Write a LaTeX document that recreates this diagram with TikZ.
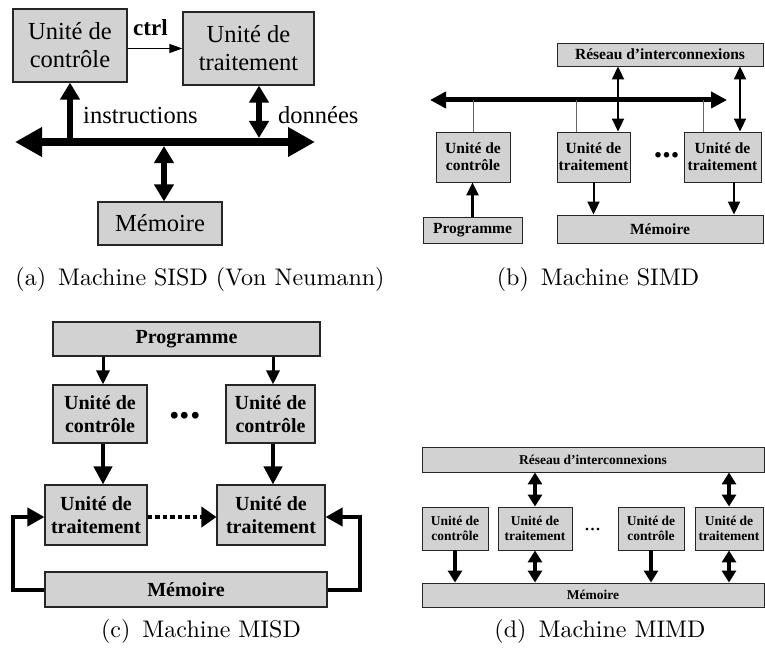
\documentclass[tikz,border=0pt]{standalone}
\usepackage{fontspec}
\newfontfamily\tnr{Liberation Serif}
\newfontfamily\capfont{lmroman10-regular.otf}
\usetikzlibrary{arrows.meta}
\begin{document}
\begin{tikzpicture}[x=1pt,y=-1pt,
  boxbase/.style={draw=black!85, fill=gray!35, inner sep=0pt, align=center},
  boxA/.style={boxbase, line width=1.2pt, font=\tnr\fontsize{24.5}{28}\selectfont},
  boxB/.style={boxbase, line width=0.9pt, font=\tnr\bfseries\fontsize{15.5}{17}\selectfont},
  boxC/.style={boxbase, line width=1.1pt, font=\tnr\bfseries\fontsize{20}{23}\selectfont},
  boxD/.style={boxbase, line width=0.9pt, font=\tnr\bfseries\fontsize{13.5}{15}\selectfont},
  lblA/.style={font=\tnr\fontsize{24.5}{28}\selectfont, inner sep=0pt},
  capt/.style={font=\capfont\fontsize{24}{29}\selectfont, inner sep=0pt, anchor=base},
  busA/.style={line width=8pt, {Triangle[length=27pt,width=28pt]}-{Triangle[length=27pt,width=28pt]}},
  vA/.style={line width=5.5pt, -{Triangle[length=17pt,width=19pt]}},
  vvA/.style={line width=5.5pt, {Triangle[length=17pt,width=19pt]}-{Triangle[length=17pt,width=19pt]}},
  ctrlarr/.style={line width=1pt, -{Triangle[length=13pt,width=9pt]}},
  busB/.style={line width=5pt, {Triangle[length=16pt,width=16pt]}-{Triangle[length=16pt,width=16pt]}},
  thinB/.style={line width=0.8pt, draw=black!60},
  vB/.style={line width=2pt, -{Triangle[length=13pt,width=12pt]}},
  vvB/.style={line width=2pt, {Triangle[length=13pt,width=12pt]}-{Triangle[length=13pt,width=12pt]}},
  vC/.style={line width=3pt, -{Triangle[length=14pt,width=13pt]}},
  vCC/.style={line width=4pt, -{Triangle[length=18pt,width=18pt]}},
  fbC/.style={line width=4pt, -{Triangle[length=17pt,width=18pt]}},
  dotC/.style={line width=4.5pt, dash pattern=on 4.5pt off 3pt, -{Triangle[length=15pt,width=20pt]}},
  vD/.style={line width=3.5pt, -{Triangle[length=12pt,width=14pt]}},
  vvD/.style={line width=3.5pt, {Triangle[length=12pt,width=14pt]}-{Triangle[length=12pt,width=14pt]}},
]
\useasboundingbox (0,0) rectangle (765,650);

% ---------------- (a) SISD ----------------
\node[boxA, minimum width=114pt, minimum height=73pt] (ucA) at (70,45.5) {Unité de\\contrôle};
\node[boxA, minimum width=131pt, minimum height=73pt] (utA) at (248.5,48.5) {Unité de\\traitement};
\node[boxA, minimum width=124pt, minimum height=43pt] (memA) at (160,223.5) {Mémoire};
\node[lblA, font=\tnr\bfseries\fontsize{23}{28}\selectfont, anchor=base west] (ctrlA) at (133,36) {ctrl};
\node[lblA, anchor=base west] (insA) at (83,124) {instructions};
\node[lblA, anchor=base west] (donA) at (278,124) {données};
\coordinate (busAL) at (15,142);
\coordinate (busAR) at (315,142);
\draw[busA] (busAL) -- (busAR);
\draw[ctrlarr] (ucA.east |- utA.west) -- (utA.west);
\draw[vA] (ucA.south |- busAL) -- (ucA.south);
\coordinate (dA) at ([xshift=10.5pt]utA.south);
\coordinate (dAbot) at (259,138);
\draw[vvA] (dA) -- (dAbot);
\coordinate (mAtop) at (164,146);
\draw[vvA] (mAtop) -- (mAtop |- memA.north);

% ---------------- (b) SIMD ----------------
\node[boxB, minimum width=206pt, minimum height=23pt] (resB) at (660,54.5) {Réseau d’interconnexions};
\node[boxB, minimum width=74pt, minimum height=50pt] (ucB) at (473,157) {Unité de\\contrôle};
\node[boxB, minimum width=99pt, minimum height=26pt] (progB) at (472.5,230) {Programme};
\node[boxB, minimum width=73pt, minimum height=50pt] (ut1B) at (593.5,157) {Unité de\\traitement};
\node[boxB, minimum width=77pt, minimum height=50pt] (ut2B) at (722.5,157) {Unité de\\traitement};
\node[boxB, minimum width=206pt, minimum height=28pt] (memB) at (660,229) {Mémoire};
\node[font=\tnr\bfseries\fontsize{34}{34}\selectfont, inner sep=0pt, anchor=base] (dotsB) at (666.5,157.5) {...};
\coordinate (busBL) at (430,100);
\coordinate (busBR) at (727,100);
\draw[busB] (busBL) -- (busBR);
\draw[thinB] (ucB.north) -- (ucB.north |- busBL);
\coordinate (t1B) at ([xshift=-17.5pt]ut1B.north);
\draw[thinB] (t1B) -- (t1B |- busBL);
\coordinate (t2B) at ([xshift=-19.5pt]ut2B.north);
\draw[thinB] (t2B) -- (t2B |- busBL);
\coordinate (r1B) at ([xshift=24.5pt]ut1B.north);
\draw[vvB] (r1B |- resB.south) -- (r1B);
\coordinate (r2B) at ([xshift=17.5pt]ut2B.north);
\draw[vvB] (r2B |- resB.south) -- (r2B);
\draw[vB] (ut1B.south) -- (ut1B.south |- memB.north);
\coordinate (m2B) at ([xshift=11.5pt]ut2B.south);
\draw[vB] (m2B) -- (m2B |- memB.north);
\draw[vB, line width=2.5pt] (progB.north) -- (progB.north |- ucB.south);

% ---------------- (c) MISD ----------------
\node[boxC, minimum width=267pt, minimum height=34pt] (progC) at (186.5,339) {Programme};
\node[boxC, minimum width=94pt, minimum height=58pt] (uc1C) at (100,414) {Unité de\\contrôle};
\node[boxC, minimum width=89pt, minimum height=58pt] (uc2C) at (270.5,414) {Unité de\\contrôle};
\node[boxC, minimum width=102pt, minimum height=60pt] (ut1C) at (96,515) {Unité de\\traitement};
\node[boxC, minimum width=108pt, minimum height=60pt] (ut2C) at (271,515) {Unité de\\traitement};
\node[boxC, minimum width=282pt, minimum height=35pt] (memC) at (186,589.5) {Mémoire};
\node[font=\tnr\bfseries\fontsize{42}{42}\selectfont, inner sep=0pt, anchor=base] (dotsC) at (185,418.5) {...};
\coordinate (pc1) at ([xshift=3pt]uc1C.north);
\coordinate (pc2) at ([xshift=2.5pt]uc2C.north);
\draw[vC] (pc1 |- progC.south) -- (pc1);
\draw[vC] (pc2 |- progC.south) -- (pc2);
\coordinate (qc1) at ([xshift=3pt]uc1C.south);
\coordinate (qc2) at ([xshift=2.5pt]uc2C.south);
\draw[vCC] (qc1) -- (qc1 |- ut1C.north);
\draw[vCC] (qc2) -- (qc2 |- ut2C.north);
\draw[dotC] ([yshift=-2pt]ut1C.east) -- ([yshift=-2pt]ut2C.west);
\coordinate (flC) at (13,0);
\coordinate (frC) at (360,0);
\draw[fbC] (memC.west) -- (memC.west -| flC) |- ([yshift=-2pt]ut1C.west);
\draw[fbC] (memC.east) -- (memC.east -| frC) |- ([yshift=-2pt]ut2C.east);

% ---------------- (d) MIMD ----------------
\node[boxD, minimum width=342pt, minimum height=25pt] (resD) at (593,459.5) {Réseau d’interconnexions};
\node[boxD, minimum width=66pt, minimum height=43pt] (uc1D) at (455,528.5) {Unité de\\contrôle};
\node[boxD, minimum width=74pt, minimum height=43pt] (ut1D) at (535,528.5) {Unité de\\traitement};
\node[boxD, minimum width=66pt, minimum height=43pt] (uc2D) at (651,528.5) {Unité de\\contrôle};
\node[boxD, minimum width=68pt, minimum height=43pt] (ut2D) at (729,528.5) {Unité de\\traitement};
\node[boxD, minimum width=342pt, minimum height=24pt] (memD) at (593,595) {Mémoire};
\node[font=\tnr\fontsize{22}{22}\selectfont, inner sep=0pt, anchor=base] (dotsD) at (592.5,530) {...};
\draw[vD] (uc1D.south) -- (uc1D.south |- memD.north);
\draw[vD] (uc2D.south) -- (uc2D.south |- memD.north);
\draw[vvD] (ut1D.north |- resD.south) -- (ut1D.north);
\draw[vvD] (ut1D.south) -- (ut1D.south |- memD.north);
\draw[vvD] (ut2D.north |- resD.south) -- (ut2D.north);
\draw[vvD] (ut2D.south) -- (ut2D.south |- memD.north);

% ---------------- captions ----------------
\node[capt] (capA) at (200,285) {(a)\hspace{0.5em}Machine SISD (Von Neumann)};
\node[capt] (capB) at (598,285) {(b)\hspace{0.5em}Machine SIMD};
\node[capt] (capC) at (201,637) {(c)\hspace{0.5em}Machine MISD};
\node[capt] (capD) at (600,637) {(d)\hspace{0.5em}Machine MIMD};
\end{tikzpicture}
\end{document}
